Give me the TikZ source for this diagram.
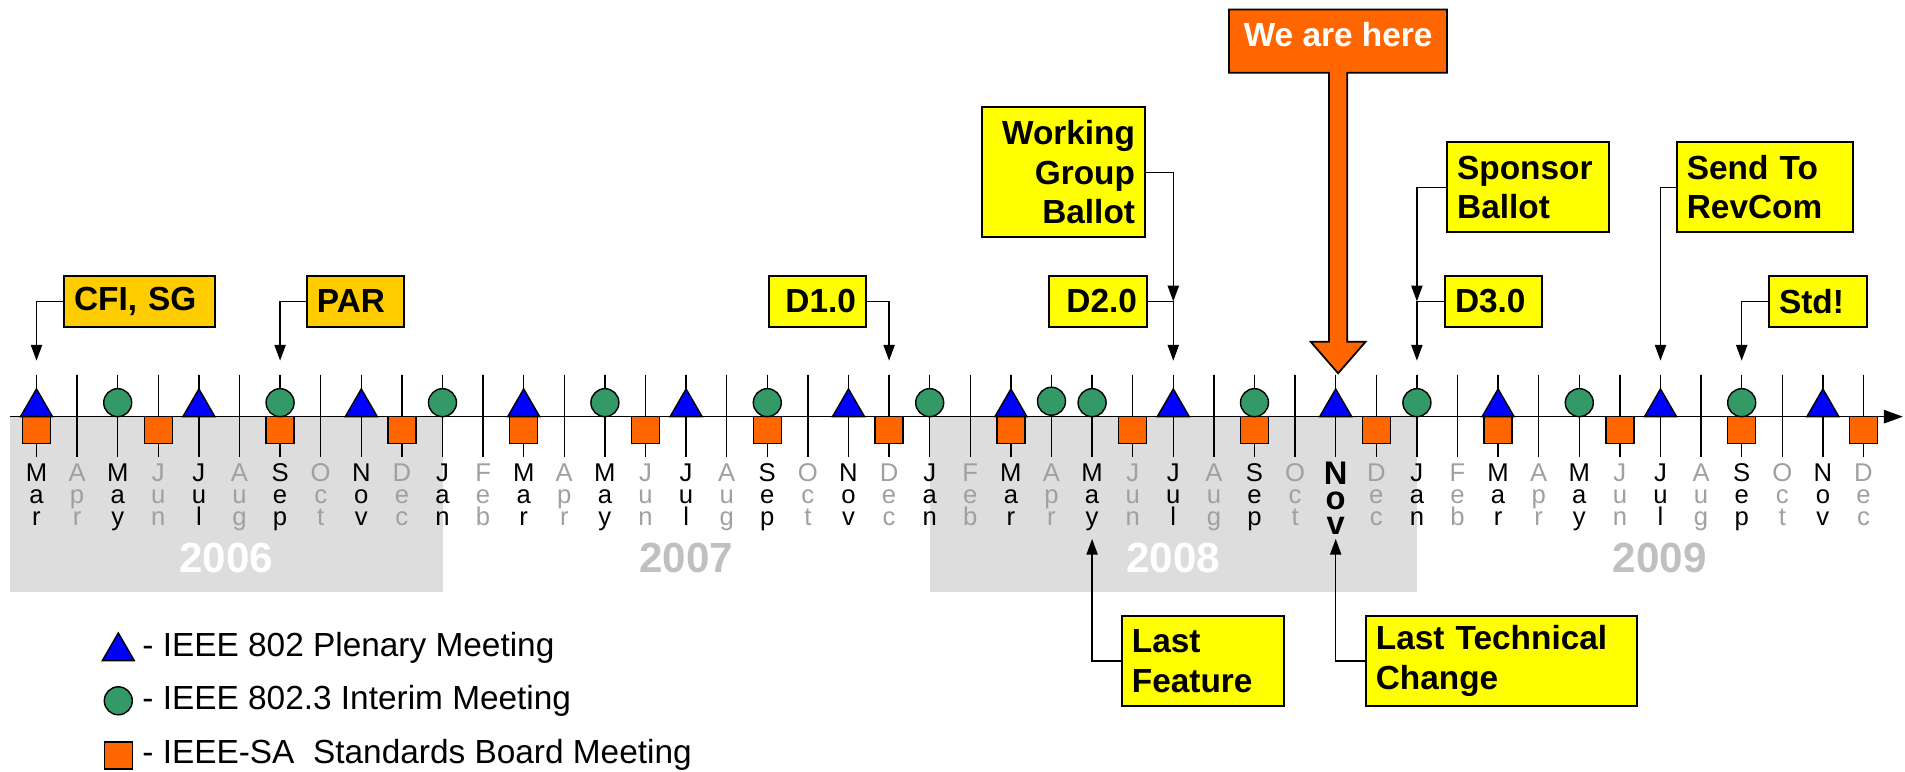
\documentclass[tikz,border=0pt]{standalone}
\usepackage{fontspec}
\setmainfont{Liberation Sans}
\usepackage{tikz}
\usetikzlibrary{arrows.meta,shapes.geometric}
\definecolor{pl_blue}{RGB}{0, 0, 255}
\definecolor{im_green}{RGB}{51, 153, 102}
\definecolor{sb_orange}{RGB}{255, 102, 0}
\definecolor{box_yellow}{RGB}{255, 255, 0}
\definecolor{box_gold}{RGB}{255, 204, 0}
\definecolor{shade_gray}{RGB}{221, 221, 221}
\definecolor{mon_gray}{RGB}{160, 160, 160}
\definecolor{year_gray}{RGB}{192, 192, 192}
\tikzstyle{none}=[]
\tikzstyle{tick}=[rectangle,draw=black,line width=0.4pt,
  minimum width=0pt,minimum height=0.82cm,inner sep=0pt]
\tikzstyle{pl}=[regular polygon,regular polygon sides=3,fill=pl_blue,draw=black,
  line width=0.4pt,inner sep=0pt,minimum size=0.37cm]
\tikzstyle{im}=[circle,fill=im_green,draw=black,
  line width=0.4pt,inner sep=0pt,minimum size=0.28cm]
\tikzstyle{sb}=[rectangle,fill=sb_orange,draw=black,
  line width=0.4pt,inner sep=0pt,minimum width=0.28cm,minimum height=0.27cm]
\tikzstyle{mon}=[anchor=north,inner sep=0pt,align=center,
  font=\fontsize{7.3}{6.2}\selectfont]
\tikzstyle{mong}=[mon,text=mon_gray]
\tikzstyle{monb}=[anchor=north,inner sep=0pt,align=center,
  font=\fontsize{9.3}{7.1}\selectfont\bfseries]
\tikzstyle{yr}=[inner sep=0pt,font=\fontsize{12}{14}\selectfont\bfseries,text=year_gray]
\tikzstyle{yrw}=[yr,text=white]
\tikzstyle{cb}=[rectangle,draw=black,line width=0.5pt,inner xsep=0.1cm,inner ysep=0pt,
  font=\fontsize{9.5}{11.2}\selectfont\bfseries]
\tikzstyle{lg}=[anchor=base west,inner sep=0pt,font=\fontsize{9.5}{11}\selectfont]
\tikzstyle{arr}=[-{Triangle[length=4.5pt,width=3.2pt]},line width=0.4pt]
\tikzstyle{axis}=[-{Triangle[length=5.4pt,width=3.8pt]},line width=0.4pt]
\newcommand{\vmon}[3]{#1\\#2\\#3}

\begin{document}
\begin{tikzpicture}[x=0.406cm,y=0.406cm]
            \useasboundingbox (-0.899, -8.751) rectangle (46.022, 10.263);
            \fill [shade_gray] (-0.65, 0) rectangle (10, -4.33);
            \fill [shade_gray] (22, 0) rectangle (34, -4.33);
            \node [style=none] (300) at (-0.65, 0) {};
            \node [style=none] (301) at (45.97, 0) {};
            \draw [style=axis] (300.center) to (301.center);
            \node [style=tick] (0) at (0, 0.02) {};
            \node [style=tick] (1) at (1, 0.02) {};
            \node [style=tick] (2) at (2, 0.02) {};
            \node [style=tick] (3) at (3, 0.02) {};
            \node [style=tick] (4) at (4, 0.02) {};
            \node [style=tick] (5) at (5, 0.02) {};
            \node [style=tick] (6) at (6, 0.02) {};
            \node [style=tick] (7) at (7, 0.02) {};
            \node [style=tick] (8) at (8, 0.02) {};
            \node [style=tick] (9) at (9, 0.02) {};
            \node [style=tick] (10) at (10, 0.02) {};
            \node [style=tick] (11) at (11, 0.02) {};
            \node [style=tick] (12) at (12, 0.02) {};
            \node [style=tick] (13) at (13, 0.02) {};
            \node [style=tick] (14) at (14, 0.02) {};
            \node [style=tick] (15) at (15, 0.02) {};
            \node [style=tick] (16) at (16, 0.02) {};
            \node [style=tick] (17) at (17, 0.02) {};
            \node [style=tick] (18) at (18, 0.02) {};
            \node [style=tick] (19) at (19, 0.02) {};
            \node [style=tick] (20) at (20, 0.02) {};
            \node [style=tick] (21) at (21, 0.02) {};
            \node [style=tick] (22) at (22, 0.02) {};
            \node [style=tick] (23) at (23, 0.02) {};
            \node [style=tick] (24) at (24, 0.02) {};
            \node [style=tick] (25) at (25, 0.02) {};
            \node [style=tick] (26) at (26, 0.02) {};
            \node [style=tick] (27) at (27, 0.02) {};
            \node [style=tick] (28) at (28, 0.02) {};
            \node [style=tick] (29) at (29, 0.02) {};
            \node [style=tick] (30) at (30, 0.02) {};
            \node [style=tick] (31) at (31, 0.02) {};
            \node [style=tick] (32) at (32, 0.02) {};
            \node [style=tick] (33) at (33, 0.02) {};
            \node [style=tick] (34) at (34, 0.02) {};
            \node [style=tick] (35) at (35, 0.02) {};
            \node [style=tick] (36) at (36, 0.02) {};
            \node [style=tick] (37) at (37, 0.02) {};
            \node [style=tick] (38) at (38, 0.02) {};
            \node [style=tick] (39) at (39, 0.02) {};
            \node [style=tick] (40) at (40, 0.02) {};
            \node [style=tick] (41) at (41, 0.02) {};
            \node [style=tick] (42) at (42, 0.02) {};
            \node [style=tick] (43) at (43, 0.02) {};
            \node [style=tick] (44) at (44, 0.02) {};
            \node [style=tick] (45) at (45, 0.02) {};
            \node [style=sb] (100) at (0, -0.333) {};
            \node [style=sb] (101) at (3, -0.333) {};
            \node [style=sb] (102) at (6, -0.333) {};
            \node [style=sb] (103) at (9, -0.333) {};
            \node [style=sb] (104) at (12, -0.333) {};
            \node [style=sb] (105) at (15, -0.333) {};
            \node [style=sb] (106) at (18, -0.333) {};
            \node [style=sb] (107) at (21, -0.333) {};
            \node [style=sb] (108) at (24, -0.333) {};
            \node [style=sb] (109) at (27, -0.333) {};
            \node [style=sb] (110) at (30, -0.333) {};
            \node [style=sb] (111) at (33, -0.333) {};
            \node [style=sb] (112) at (36, -0.333) {};
            \node [style=sb] (113) at (39, -0.333) {};
            \node [style=sb] (114) at (42, -0.333) {};
            \node [style=sb] (115) at (45, -0.333) {};
            \node [style=pl] (120) at (0, 0.228) {};
            \node [style=pl] (121) at (4, 0.228) {};
            \node [style=pl] (122) at (8, 0.228) {};
            \node [style=pl] (123) at (12, 0.228) {};
            \node [style=pl] (124) at (16, 0.228) {};
            \node [style=pl] (125) at (20, 0.228) {};
            \node [style=pl] (126) at (24, 0.228) {};
            \node [style=pl] (127) at (28, 0.228) {};
            \node [style=pl] (128) at (32, 0.228) {};
            \node [style=pl] (129) at (36, 0.228) {};
            \node [style=pl] (130) at (40, 0.228) {};
            \node [style=pl] (131) at (44, 0.228) {};
            \node [style=im] (140) at (2, 0.345) {};
            \node [style=im] (141) at (6, 0.345) {};
            \node [style=im] (142) at (10, 0.345) {};
            \node [style=im] (143) at (14, 0.345) {};
            \node [style=im] (144) at (18, 0.345) {};
            \node [style=im] (145) at (22, 0.345) {};
            \node [style=im] (146) at (25, 0.38) {};
            \node [style=im] (147) at (26, 0.345) {};
            \node [style=im] (148) at (30, 0.345) {};
            \node [style=im] (149) at (34, 0.345) {};
            \node [style=im] (150) at (38, 0.345) {};
            \node [style=im] (151) at (42, 0.345) {};
            \node [style=mon] (50) at (0, -1.15) {\vmon Mar};
            \node [style=mong] (51) at (1, -1.15) {\vmon Apr};
            \node [style=mon] (52) at (2, -1.15) {\vmon May};
            \node [style=mong] (53) at (3, -1.15) {\vmon Jun};
            \node [style=mon] (54) at (4, -1.15) {\vmon Jul};
            \node [style=mong] (55) at (5, -1.15) {\vmon Aug};
            \node [style=mon] (56) at (6, -1.15) {\vmon Sep};
            \node [style=mong] (57) at (7, -1.15) {\vmon Oct};
            \node [style=mon] (58) at (8, -1.15) {\vmon Nov};
            \node [style=mong] (59) at (9, -1.15) {\vmon Dec};
            \node [style=mon] (60) at (10, -1.15) {\vmon Jan};
            \node [style=mong] (61) at (11, -1.15) {\vmon Feb};
            \node [style=mon] (62) at (12, -1.15) {\vmon Mar};
            \node [style=mong] (63) at (13, -1.15) {\vmon Apr};
            \node [style=mon] (64) at (14, -1.15) {\vmon May};
            \node [style=mong] (65) at (15, -1.15) {\vmon Jun};
            \node [style=mon] (66) at (16, -1.15) {\vmon Jul};
            \node [style=mong] (67) at (17, -1.15) {\vmon Aug};
            \node [style=mon] (68) at (18, -1.15) {\vmon Sep};
            \node [style=mong] (69) at (19, -1.15) {\vmon Oct};
            \node [style=mon] (70) at (20, -1.15) {\vmon Nov};
            \node [style=mong] (71) at (21, -1.15) {\vmon Dec};
            \node [style=mon] (72) at (22, -1.15) {\vmon Jan};
            \node [style=mong] (73) at (23, -1.15) {\vmon Feb};
            \node [style=mon] (74) at (24, -1.15) {\vmon Mar};
            \node [style=mong] (75) at (25, -1.15) {\vmon Apr};
            \node [style=mon] (76) at (26, -1.15) {\vmon May};
            \node [style=mong] (77) at (27, -1.15) {\vmon Jun};
            \node [style=mon] (78) at (28, -1.15) {\vmon Jul};
            \node [style=mong] (79) at (29, -1.15) {\vmon Aug};
            \node [style=mon] (80) at (30, -1.15) {\vmon Sep};
            \node [style=mong] (81) at (31, -1.15) {\vmon Oct};
            \node [style=monb] (82) at (32, -1.11) {\vmon Nov};
            \node [style=mong] (83) at (33, -1.15) {\vmon Dec};
            \node [style=mon] (84) at (34, -1.15) {\vmon Jan};
            \node [style=mong] (85) at (35, -1.15) {\vmon Feb};
            \node [style=mon] (86) at (36, -1.15) {\vmon Mar};
            \node [style=mong] (87) at (37, -1.15) {\vmon Apr};
            \node [style=mon] (88) at (38, -1.15) {\vmon May};
            \node [style=mong] (89) at (39, -1.15) {\vmon Jun};
            \node [style=mon] (90) at (40, -1.15) {\vmon Jul};
            \node [style=mong] (91) at (41, -1.15) {\vmon Aug};
            \node [style=mon] (92) at (42, -1.15) {\vmon Sep};
            \node [style=mong] (93) at (43, -1.15) {\vmon Oct};
            \node [style=mon] (94) at (44, -1.15) {\vmon Nov};
            \node [style=mong] (95) at (45, -1.15) {\vmon Dec};
            \node [style=yrw] (96) at (4.67, -3.48) {2006};
            \node [style=yr] (97) at (16, -3.48) {2007};
            \node [style=yrw] (98) at (28, -3.48) {2008};
            \node [style=yr] (99) at (39.98, -3.48) {2009};
            \node [style=cb, fill=box_gold, text width=1.31cm, minimum height=0.51cm, align=left] (200) at (2.537, 2.84) {CFI, SG};
            \node [style=none] (201) at (0, 1.38) {};
            \node [style=cb, fill=box_gold, text width=0.77cm, minimum height=0.51cm, align=left] (202) at (7.857, 2.84) {PAR};
            \node [style=none] (203) at (6, 1.38) {};
            \node [style=cb, fill=box_yellow, text width=0.77cm, minimum height=0.51cm, align=right] (204) at (19.236, 2.84) {D1.0};
            \node [style=none] (205) at (21, 1.38) {};
            \node [style=cb, fill=box_yellow, text width=1.43cm, minimum height=1.30cm, align=right] (206) at (25.296, 6.02) {Working\\Group\\Ballot};
            \node [style=none] (207) at (28, 2.84) {};
            \node [style=cb, fill=box_yellow, text width=0.78cm, minimum height=0.51cm, align=right] (208) at (26.145, 2.84) {D2.0};
            \node [style=none] (209) at (28, 1.38) {};
            \node [style=cb, fill=box_yellow, text width=1.42cm, minimum height=0.90cm, align=left] (211) at (36.74, 5.65) {Sponsor\\Ballot};
            \node [style=none] (212) at (34, 2.84) {};
            \node [style=cb, fill=box_yellow, text width=0.77cm, minimum height=0.51cm, align=left] (213) at (35.887, 2.84) {D3.0};
            \node [style=none] (214) at (34, 1.38) {};
            \node [style=cb, fill=box_yellow, text width=1.56cm, minimum height=0.90cm, align=left] (215) at (42.57, 5.65) {Send To\\RevCom};
            \node [style=none] (216) at (40, 1.38) {};
            \node [style=cb, fill=box_yellow, text width=0.78cm, minimum height=0.51cm, align=left] (217) at (43.88, 2.84) {Std!};
            \node [style=none] (218) at (42, 1.38) {};
            \node [style=cb, fill=box_yellow, text width=1.42cm, minimum height=0.90cm, align=left] (219) at (28.73, -6.02) {Last\\Feature};
            \node [style=none] (220) at (26, -3.01) {};
            \node [style=cb, fill=box_yellow, text width=2.51cm, minimum height=0.90cm, align=left] (221) at (36.08, -6.02) {Last Technical\\Change};
            \node [style=none] (222) at (32, -3.01) {};
            \draw [style=arr] (200.west) -| (201.center);
            \draw [style=arr] (202.west) -| (203.center);
            \draw [style=arr] (204.east) -| (205.center);
            \draw [style=arr] (206.east) -| (207.center);
            \draw [style=arr] (208.east) -| (209.center);
            \draw [style=arr] (211.west) -| (212.center);
            \draw [style=arr] (213.west) -| (214.center);
            \draw [style=arr] (215.west) -| (216.center);
            \draw [style=arr] (217.west) -| (218.center);
            \draw [style=arr] (219.west) -| (220.center);
            \draw [style=arr] (221.west) -| (222.center);
            \draw [fill=sb_orange, line width=0.5pt] (29.37, 10.03) -- (34.74, 10.03) -- (34.74, 8.47) -- (32.287, 8.47) -- (32.287, 1.847) -- (32.737, 1.847) -- (32.06, 1.069) -- (31.383, 1.847) -- (31.833, 1.847) -- (31.833, 8.47) -- (29.37, 8.47) -- cycle;
            \node [style=none, inner sep=0pt, text=white, font=\fontsize{9.5}{11.2}\selectfont\bfseries] (210) at (32.06, 9.41) {We are here};
            \node [style=pl] (230) at (2.015, -5.782) {};
            \node [style=lg] (231) at (2.591, -5.911) {- IEEE 802 Plenary Meeting};
            \node [style=im] (232) at (2.015, -6.998) {};
            \node [style=lg] (233) at (2.591, -7.224) {- IEEE 802.3 Interim Meeting};
            \node [style=sb] (234) at (2.02, -8.345) {};
            \node [style=lg] (235) at (2.591, -8.554) {- IEEE-SA\ \ Standards Board Meeting};
    \end{tikzpicture}
\end{document}
